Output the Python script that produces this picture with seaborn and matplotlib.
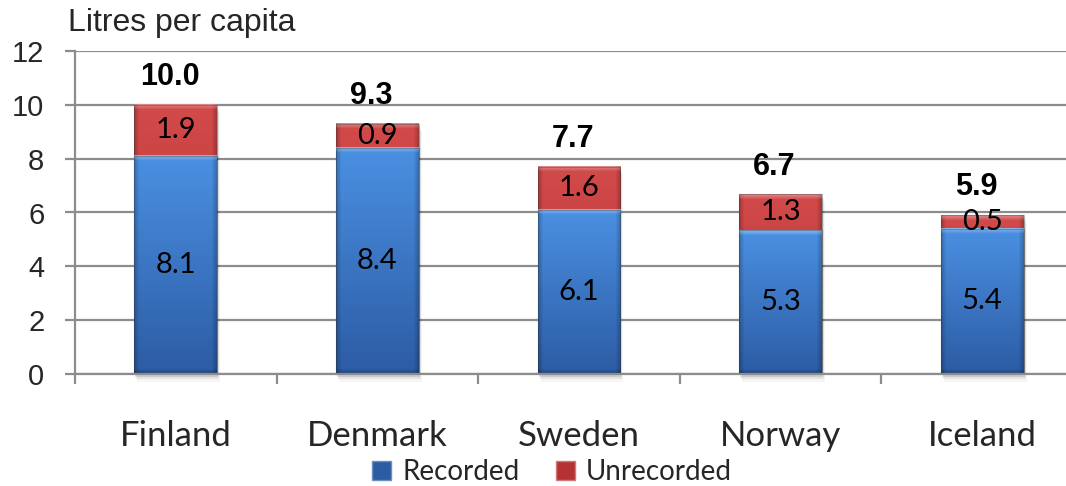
import numpy as np
import pandas as pd
import matplotlib
matplotlib.use("Agg")
import matplotlib.pyplot as plt
import matplotlib.colors as mcolors
from matplotlib.patches import Rectangle, Patch
import seaborn as sns

# Alcohol consumption, litres of pure alcohol per capita
countries = ["Finland", "Denmark", "Sweden", "Norway", "Iceland"]
recorded = [8.1, 8.4, 6.1, 5.34, 5.4]
unrecorded = [1.9, 0.9, 1.6, 1.33, 0.5]
series_names = ["Recorded", "Unrecorded"]
y_ticks = [0, 2, 4, 6, 8, 10, 12]
axis_title = "Litres per capita"

totals = [r + u for r, u in zip(recorded, unrecorded)]

sns.set_theme(style="white")
plt.rcParams["font.family"] = ["Liberation Sans", "DejaVu Sans"]

BLUE_TOP, BLUE_BOT = "#4b90e2", "#2c5ca4"
RED_TOP, RED_BOT = "#d24a4a", "#b53234"
GRID = "#8c8c8c"
LABEL_FONT = ["Lato", "DejaVu Sans"]

df = pd.DataFrame({"country": countries, "recorded": recorded,
                   "unrecorded": unrecorded, "total": totals})

W, H, DPI = 1066, 486, 100
fig = plt.figure(figsize=(W / DPI, H / DPI), dpi=DPI)
ax = fig.add_axes([75 / W, 112 / H, 1008 / W, 323 / H])

BAR_W = 0.41
# stacked bars: full stack first, recorded part drawn over it
sns.barplot(data=df, x="country", y="total", color=RED_BOT, width=BAR_W,
            ax=ax, saturation=1, zorder=3)
n_red = len(ax.patches)
sns.barplot(data=df, x="country", y="recorded", color=BLUE_BOT, width=BAR_W,
            ax=ax, saturation=1, zorder=4)
patches = list(ax.patches)
red_patches, blue_patches = patches[:n_red], patches[n_red:]

ax.set_ylim(0, 12)
ax.set_xlim(-0.5, len(countries) - 0.5)

px_per_x = 1008 / len(countries)
px_per_y = 323 / 12


def bevel_image(c_top, c_bot, w_px, h_px, bevel=5):
    """Rounded-bevel shading for a bar segment."""
    w_px = max(int(round(w_px)), 2)
    h_px = max(int(round(h_px)), 2)
    top = np.array(mcolors.to_rgb(c_top))
    bot = np.array(mcolors.to_rgb(c_bot))
    t = np.linspace(0, 1, h_px)[:, None, None]
    img = top * (1 - t) + bot * t
    img = np.repeat(img, w_px, axis=1)
    xs = np.arange(w_px)
    ys = np.arange(h_px)
    dl = np.clip(xs / bevel, 0, 1)
    dr = np.clip((w_px - 1 - xs) / bevel, 0, 1)
    dt = np.clip(ys / bevel, 0, 1)
    db = np.clip((h_px - 1 - ys) / bevel, 0, 1)
    # darker sides and bottom, bright top edge
    side = 1 - 0.22 * (1 - np.minimum(dl, dr))[None, :]
    img = img * side[..., None]
    hi = (1 - dt)[:, None] * np.ones((1, w_px))
    img = img + (1 - img) * 0.35 * hi[..., None]
    lo = (1 - db)[:, None] * np.ones((1, w_px))
    img = img * (1 - 0.25 * lo[..., None])
    return np.clip(img, 0, 1)


def shade(patch, c_top, c_bot, z):
    x0, y0 = patch.get_x(), patch.get_y()
    w, h = patch.get_width(), patch.get_height()
    img = bevel_image(c_top, c_bot, w * px_per_x, h * px_per_y)
    ax.imshow(img, extent=[x0, x0 + w, y0, y0 + h], origin="upper",
              aspect="auto", interpolation="bilinear", zorder=z)
    patch.set_facecolor("none")
    patch.set_edgecolor((0.2, 0.2, 0.2, 0.35))
    patch.set_linewidth(0.8)
    patch.set_zorder(z + 0.1)


for p in red_patches:
    x0, w = p.get_x(), p.get_width()
    # soft drop shadow under each bar
    for k, a in enumerate([0.10, 0.07, 0.04]):
        off = (k + 1) * 2.5
        ax.add_patch(Rectangle((x0 + off / px_per_x * 0.4, -off / px_per_y),
                               w, p.get_height(), facecolor="black",
                               alpha=a, lw=0, zorder=2.5, clip_on=False))
    shade(p, RED_TOP, RED_BOT, 3)
for p in blue_patches:
    shade(p, BLUE_TOP, BLUE_BOT, 4)

ax.set_xlim(-0.5, len(countries) - 0.5)
ax.set_ylim(0, 12)

# segment and total labels
for i, (r, u, t) in enumerate(zip(recorded, unrecorded, totals)):
    ax.text(i, r / 2, f"{r:.1f}", ha="center", va="center", fontsize=21,
            family=LABEL_FONT, color="black", zorder=6)
    ax.text(i, r + u / 2, f"{u:.1f}", ha="center", va="center", fontsize=21,
            family=LABEL_FONT, color="black", zorder=6)
    ax.text(i - 0.03, t + 0.48, f"{t:.1f}", ha="center", va="bottom",
            fontsize=22, fontweight="bold", color="black", zorder=6)

# axes styling
ax.set_yticks(y_ticks)
ax.set_yticklabels([str(v) for v in y_ticks], fontsize=21)
ax.yaxis.grid(True, color=GRID, linewidth=1.6, zorder=0)
ax.set_axisbelow(True)
ax.tick_params(axis="y", length=7, width=1.6, color=GRID, pad=15, left=True)
ax.set_xticks(range(len(countries)))
ax.set_xticklabels(countries, fontsize=25, family=LABEL_FONT)
ax.set_xticks(np.arange(-0.5, len(countries) + 0.5, 1), minor=True)
ax.tick_params(axis="x", which="major", length=0, pad=33)
ax.tick_params(axis="x", which="minor", length=7, width=1.6, color=GRID,
               bottom=True)
ax.set_xlabel("")
ax.set_ylabel("")
for side in ["top", "right"]:
    ax.spines[side].set_visible(False)
for side in ["left", "bottom"]:
    ax.spines[side].set_color(GRID)
    ax.spines[side].set_linewidth(1.6)
    ax.spines[side].set_zorder(5)

fig.text(68 / W, 1 - 8 / H, axis_title, ha="left", va="top", fontsize=23)

handles = [Patch(facecolor=BLUE_BOT, edgecolor="#6d8fbf"),
           Patch(facecolor=RED_BOT, edgecolor="#cf7a7a")]
fig.legend(handles, series_names, loc="center",
           bbox_to_anchor=(552 / W, 1 - 472 / H), ncol=2, frameon=False,
           prop={"family": LABEL_FONT, "size": 20}, handlelength=0.7,
           handleheight=0.7, handletextpad=0.4, columnspacing=1.3,
           borderpad=0)

fig.savefig("out.png", dpi=DPI)
